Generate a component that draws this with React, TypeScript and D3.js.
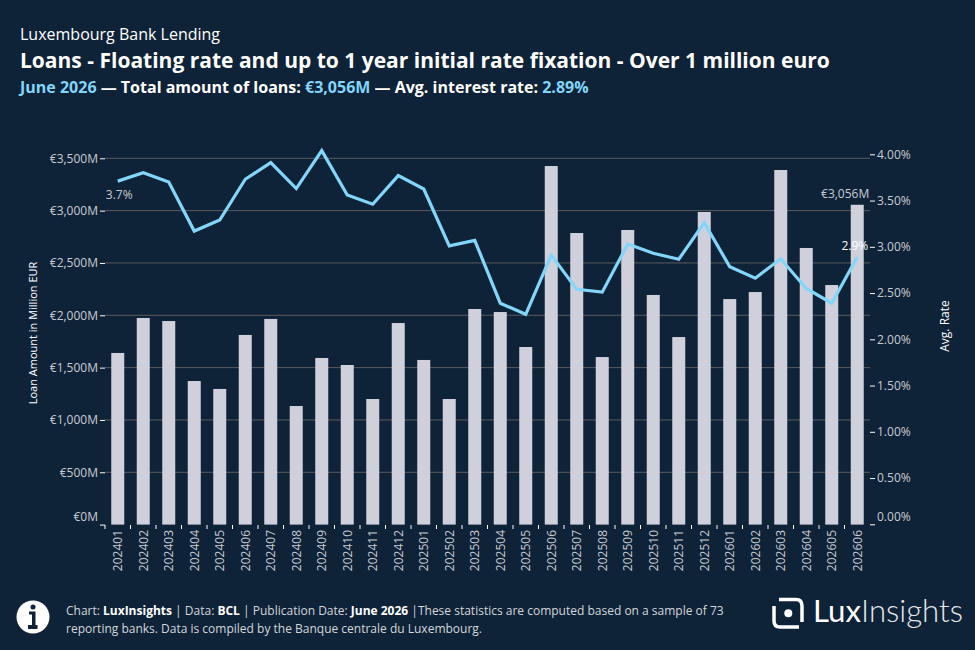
import React, { useEffect, useRef } from 'react';
import * as d3 from 'd3';

const months = [
  '202401', '202402', '202403', '202404', '202405', '202406', '202407', '202408', '202409', '202410',
  '202411', '202412', '202501', '202502', '202503', '202504', '202505', '202506', '202507', '202508',
  '202509', '202510', '202511', '202512', '202601', '202602', '202603', '202604', '202605', '202606',
];
const loanAmounts = [
  1640, 1974, 1945, 1372, 1296, 1812, 1965, 1133, 1592, 1525,
  1200, 1926, 1573, 1200, 2060, 2031, 1697, 3426, 2786, 1601,
  2815, 2194, 1792, 2987, 2155, 2222, 3388, 2643, 2289, 3056,
];
const avgRates = [
  3.71, 3.80, 3.70, 3.17, 3.29, 3.73, 3.91, 3.63, 4.04, 3.56,
  3.46, 3.77, 3.625, 3.01, 3.07, 2.39, 2.27, 2.91, 2.54, 2.51,
  3.03, 2.93, 2.865, 3.26, 2.785, 2.66, 2.87, 2.55, 2.39, 2.89,
];
const amountTicks = [0, 500, 1000, 1500, 2000, 2500, 3000, 3500];
const rateTicks = [0, 0.5, 1, 1.5, 2, 2.5, 3, 3.5, 4];

const FONT = '"Open Sans", sans-serif';
const BG = '#0e2238';
const BLUE = '#82d6fa';
const BAR = '#cfd0dc';
const TICK_TEXT = '#c8ccd2';

const App: React.FC = () => {
  const svgRef = useRef<SVGSVGElement>(null);

  useEffect(() => {
    if (!svgRef.current) return;
    d3.select(svgRef.current).selectAll('*').remove();

    const width = 975;
    const height = 650;
    const margin = { top: 154, right: 105, bottom: 126, left: 105 };
    const innerWidth = width - margin.left - margin.right;
    const innerHeight = height - margin.top - margin.bottom;

    const svg = d3.select(svgRef.current).attr('width', width).attr('height', height);
    svg.append('rect').attr('width', width).attr('height', height).attr('fill', BG);

    // Header
    const addText = (x: number, y: number, size: number, weight: number, parts: [string, string, number?][]) => {
      const t = svg
        .append('text')
        .attr('x', x)
        .attr('y', y)
        .attr('font-family', FONT)
        .attr('font-size', size)
        .attr('font-weight', weight);
      parts.forEach(([s, fill, w]) => {
        const span = t.append('tspan').attr('fill', fill).text(s);
        if (w) span.attr('font-weight', w);
      });
    };
    addText(20, 40, 16, 400, [['Luxembourg Bank Lending', '#ffffff']]);
    addText(20, 68, 21, 700, [['Loans - Floating rate and up to 1 year initial rate fixation - Over 1 million euro', '#ffffff']]);
    addText(20, 93, 16, 700, [
      ['June 2026', BLUE],
      [' \u2014 Total amount of loans: ', '#ffffff'],
      ['\u20ac3,056M', BLUE],
      [' \u2014 Avg. interest rate: ', '#ffffff'],
      ['2.89%', BLUE],
    ]);

    const g = svg.append('g').attr('transform', `translate(${margin.left},${margin.top})`);

    // Scales
    const x = d3.scaleBand<string>().domain(months).range([0, innerWidth]).paddingInner(0.49).paddingOuter(0.245);
    const yAmount = d3.scaleLinear().domain([0, 3541]).range([innerHeight + 0.6, 0]);
    const yRate = d3.scaleLinear().domain([0, 4]).range([innerHeight + 0.3, 0.3]);
    const cx = (m: string) => (x(m) as number) + x.bandwidth() / 2;

    // Gridlines
    g.append('g')
      .selectAll('line')
      .data(amountTicks.slice(1))
      .enter()
      .append('line')
      .attr('x1', 0)
      .attr('x2', innerWidth)
      .attr('y1', (d) => yAmount(d))
      .attr('y2', (d) => yAmount(d))
      .attr('stroke', '#5a5c60')
      .attr('stroke-width', 1);

    // Bars
    g.append('g')
      .selectAll('rect')
      .data(months)
      .enter()
      .append('rect')
      .attr('x', (d) => x(d) as number)
      .attr('width', x.bandwidth())
      .attr('y', (_, i) => yAmount(loanAmounts[i]))
      .attr('height', (_, i) => yAmount(0) - yAmount(loanAmounts[i]))
      .attr('fill', BAR);

    // Rate line
    const line = d3
      .line<number>()
      .x((_, i) => cx(months[i]))
      .y((d) => yRate(d));
    g.append('path')
      .datum(avgRates)
      .attr('fill', 'none')
      .attr('stroke', BLUE)
      .attr('stroke-width', 3.2)
      .attr('stroke-linejoin', 'miter')
      .attr('d', line);

    // Axes
    const styleAxis = (a: d3.Selection<SVGGElement, unknown, null, undefined>) => {
      a.select('.domain').remove();
      a.selectAll('line').attr('stroke', '#ffffff').attr('stroke-width', 1);
      a.selectAll('text')
        .attr('fill', TICK_TEXT)
        .attr('font-family', FONT)
        .attr('font-size', 12)
        .attr('font-weight', 400);
    };

    const leftAxis = g
      .append('g')
      .call(
        d3
          .axisLeft(yAmount)
          .tickValues(amountTicks)
          .tickSize(5)
          .tickPadding(2)
          .tickFormat((d) => `\u20ac${d3.format(',')(d as number)}M`)
      );
    styleAxis(leftAxis as any);
    leftAxis.selectAll<SVGTextElement, number>('text').attr('dy', (d) => (d === 0 ? '-0.35em' : '0.32em'));

    const rightAxis = g
      .append('g')
      .attr('transform', `translate(${innerWidth},0)`)
      .call(
        d3
          .axisRight(yRate)
          .tickValues(rateTicks)
          .tickSize(5)
          .tickPadding(2)
          .tickFormat((d) => `${d3.format('.2f')(d as number)}%`)
      );
    styleAxis(rightAxis as any);
    rightAxis.selectAll<SVGTextElement, number>('text').attr('dy', (d) => (d === 0 ? '-0.35em' : '0.32em'));

    // Ticks on the month axis sit on the band edges, labels on the band centres
    const bottom = g.append('g').attr('transform', `translate(0,${innerHeight + 1})`);
    bottom
      .selectAll('line')
      .data(d3.range(months.length))
      .enter()
      .append('line')
      .attr('x1', (i) => (x.step() * i))
      .attr('x2', (i) => (x.step() * i))
      .attr('y1', 0)
      .attr('y2', 4)
      .attr('stroke', '#ffffff');
    bottom
      .selectAll('text')
      .data(months)
      .enter()
      .append('text')
      .attr('transform', (d) => `translate(${cx(d) + 4.5},5) rotate(-90)`)
      .attr('text-anchor', 'end')
      .attr('fill', TICK_TEXT)
      .attr('font-family', FONT)
      .attr('font-size', 12)
      .attr('font-weight', 400)
      .text((d) => d);

    // Axis titles
    svg
      .append('text')
      .attr('transform', 'translate(37,333) rotate(-90)')
      .attr('text-anchor', 'middle')
      .attr('fill', '#ffffff')
      .attr('font-family', FONT)
      .attr('font-size', 11)
      .text('Loan Amount in Million EUR');
    svg
      .append('text')
      .attr('transform', 'translate(949,326) rotate(-90)')
      .attr('text-anchor', 'middle')
      .attr('fill', '#ffffff')
      .attr('font-family', FONT)
      .attr('font-size', 12)
      .text('Avg. Rate');

    // Point labels
    const pointLabel = (px: number, py: number, anchor: string, text: string, fill = TICK_TEXT) =>
      g
        .append('text')
        .attr('x', px)
        .attr('y', py)
        .attr('text-anchor', anchor)
        .attr('fill', fill)
        .attr('font-family', FONT)
        .attr('font-size', 12)
        .attr('font-weight', 400)
        .text(text);
    const last = months.length - 1;
    pointLabel(cx(months[0]) + 1.5, yRate(avgRates[0]) + 18, 'middle', `${d3.format('.1f')(avgRates[0])}%`);
    pointLabel(cx(months[last]) + 11, yRate(avgRates[last]) - 7, 'end', `${d3.format('.1f')(avgRates[last])}%`, '#ffffff');
    pointLabel(cx(months[last]) + 12, yAmount(loanAmounts[last]) - 7, 'end', `\u20ac${d3.format(',')(loanAmounts[last])}M`);

    // Footer info icon
    const icon = svg.append('g').attr('transform', 'translate(33,617)');
    icon.append('circle').attr('r', 16.5).attr('fill', '#ffffff');
    icon.append('circle').attr('cy', -10).attr('r', 2.5).attr('fill', BG);
    icon
      .append('path')
      .attr('d', 'M-4,-5.5 H2.5 V8 H4.5 V12 H-5 V8 H-1 V-2.5 H-4 Z')
      .attr('fill', BG);

    // Footer text
    addText(66, 615, 12, 400, [
      ['Chart: ', '#d4d8dc'],
      ['LuxInsights', '#ffffff', 700],
      [' | Data: ', '#d4d8dc'],
      ['BCL', '#ffffff', 700],
      [' | Publication Date: ', '#d4d8dc'],
      ['June 2026', '#ffffff', 700],
      [' |These statistics are computed based on a sample of 73', '#d4d8dc'],
    ]);
    addText(66, 633, 12, 400, [['reporting banks. Data is compiled by the Banque centrale du Luxembourg.', '#d4d8dc']]);

    // Logo
    const logo = svg.append('g').attr('transform', 'translate(772,597)');
    logo
      .append('path')
      .attr('d', 'M7,2.5 H24 Q30,2.5 30,9 V25 M2,9 V24 Q2,30 8,30 H27')
      .attr('fill', 'none')
      .attr('stroke', '#ffffff')
      .attr('stroke-width', 3.5);
    logo.append('circle').attr('cx', 16.3).attr('cy', 16.3).attr('r', 4).attr('fill', '#ffffff');
    const logoText = logo
      .append('text')
      .attr('x', 41)
      .attr('y', 25)
      .attr('font-family', 'Lato, sans-serif')
      .attr('font-size', 31.5)
      .attr('fill', '#ffffff')
      .attr('textLength', 150)
      .attr('lengthAdjust', 'spacingAndGlyphs');
    logoText.append('tspan').attr('font-weight', 400).text('Lux');
    logoText.append('tspan').attr('font-weight', 300).attr('fill', '#e4e7ea').text('Insights');
  }, []);

  return <svg ref={svgRef} style={{ position: 'absolute', left: 0, top: 0, display: 'block' }} />;
};

export default App;
